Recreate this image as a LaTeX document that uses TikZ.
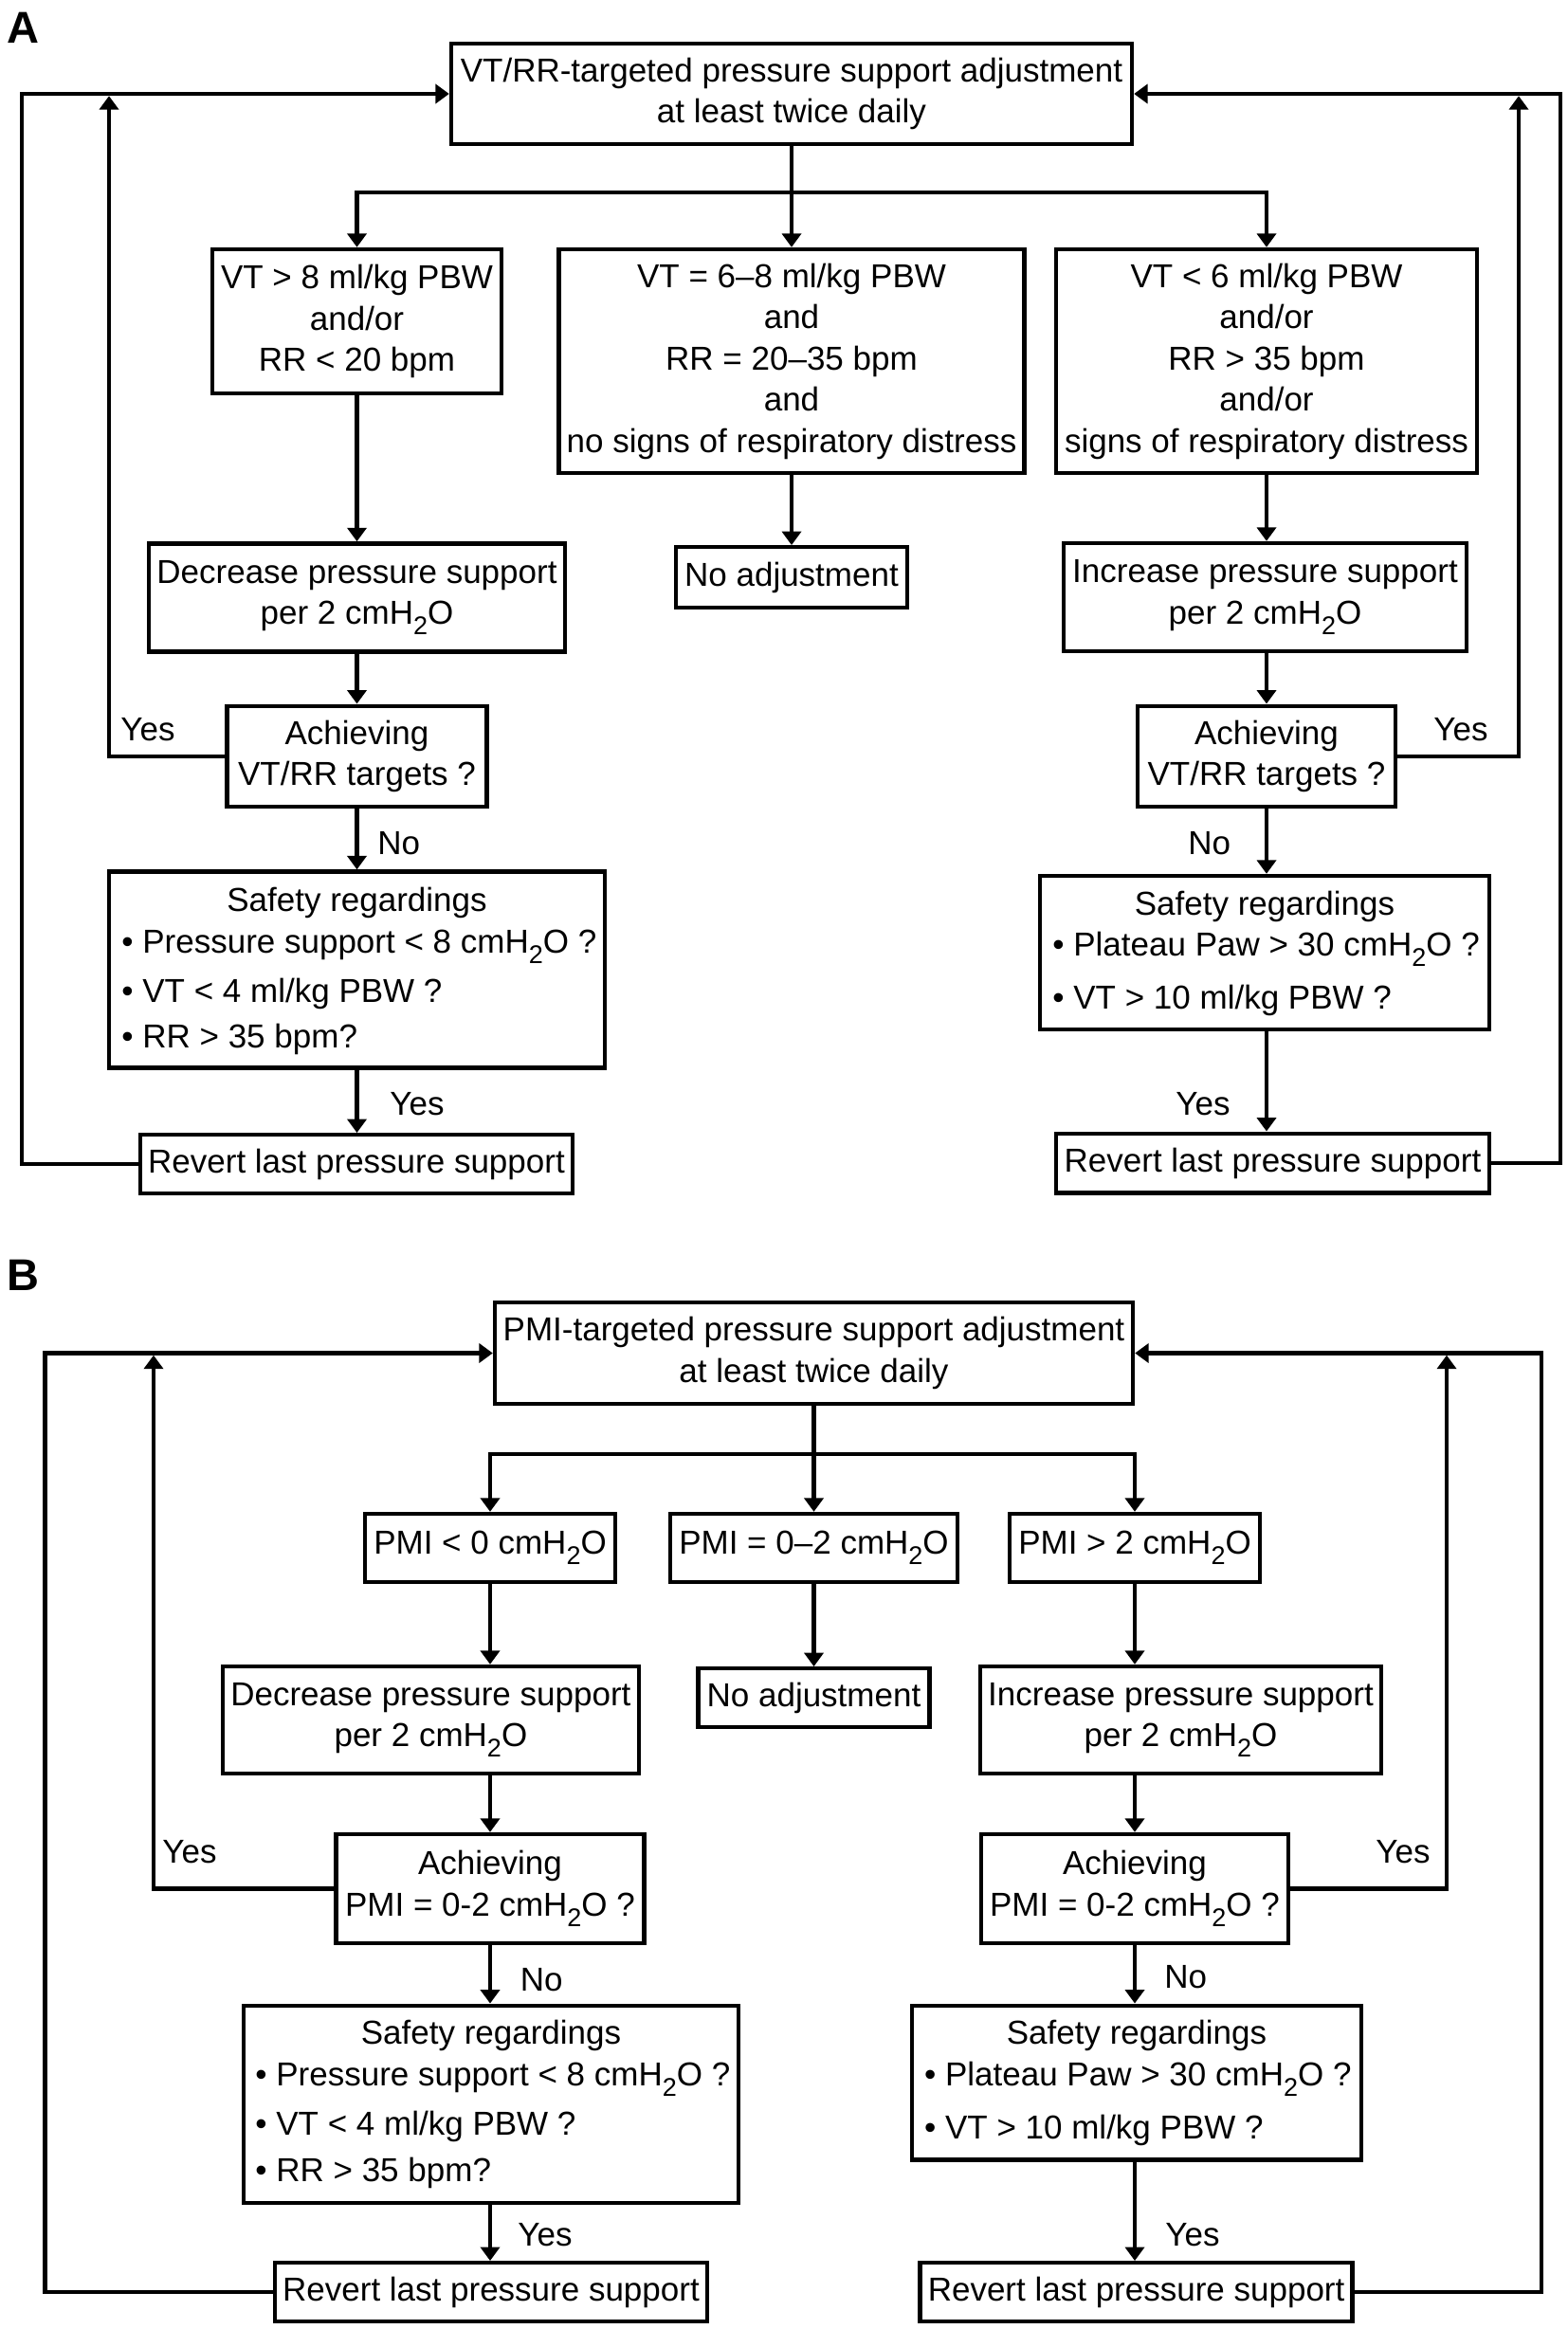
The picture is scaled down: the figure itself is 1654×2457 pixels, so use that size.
\documentclass[tikz,border=0pt]{standalone}
\usepackage{fontspec}
\setmainfont{Liberation Sans}
\usetikzlibrary{arrows.meta}
\newcommand\tsub[1]{\raisebox{-5.5pt}{\fontsize{13.5pt}{13.5pt}\selectfont #1}}
\newcommand\cmho{cmH\tsub{2}O}
\newcommand\bx[6]{\node[box, minimum width=#4*0.5pt, minimum height=#5*0.5pt] (#1) at (#2,#3) {#6};}
\begin{document}
\begin{tikzpicture}[x=0.5pt,y=-0.5pt,
  lw/.style={line width=2.2pt},
  box/.style={draw, lw, rectangle, inner sep=0pt, align=center, font=\fontsize{17.5pt}{21.75pt}\selectfont},
  txt/.style={inner sep=0pt, font=\fontsize{17.5pt}{21.75pt}\selectfont},
  arr/.style={lw, -{Triangle[length=7.2pt,width=10pt]}},
  panel/.style={inner sep=0pt, anchor=base west, font=\fontsize{23.5pt}{23.5pt}\selectfont\bfseries}]
\useasboundingbox (0,0) rectangle (1654,2457);

% ---------------- Panel A ----------------
\node[panel] (labA) at (7,46) {A};
\bx{topA}{835}{99}{718}{106}{VT/RR-targeted pressure support adjustment\\at least twice daily}
\bx{L1}{376.5}{339}{305}{152}{VT > 8 ml/kg PBW\\and/or\\RR < 20 bpm}
\bx{M1}{835}{381}{491}{236}{VT = 6–8 ml/kg PBW\\and\\RR = 20–35 bpm\\and\\no signs of respiratory distress}
\bx{R1}{1336}{381}{444.5}{236}{VT < 6 ml/kg PBW\\and/or\\RR > 35 bpm\\and/or\\signs of respiratory distress}
\bx{decA}{376.5}{630.4}{439.4}{114}{Decrease pressure support\\per 2 \cmho}
\bx{noA}{835}{609}{244}{63.5}{No adjustment}
\bx{incA}{1334.5}{630}{425}{114}{Increase pressure support\\per 2 \cmho}
\bx{achAL}{376.5}{797.7}{274}{106}{Achieving\\VT/RR targets ?}
\bx{safAL}{376.5}{1023}{523}{207}{}
\bx{revAL}{376}{1228}{456}{61.6}{Revert last pressure support}
\bx{achAR}{1336}{797.7}{272}{106}{Achieving\\VT/RR targets ?}
\bx{safAR}{1334}{1005}{474}{162}{}
\bx{revAR}{1342.5}{1227}{457}{62.6}{Revert last pressure support}

\node[txt, anchor=base] (sAL0) at (376.5,961) {Safety regardings};
\node[txt, anchor=base west] (sAL1) at (128,1005.7) {• Pressure support < 8 \cmho{} ?};
\node[txt, anchor=base west] (sAL2) at (128,1057) {• VT < 4 ml/kg PBW ?};
\node[txt, anchor=base west] (sAL3) at (128,1105) {• RR > 35 bpm?};
\node[txt, anchor=base] (sAR0) at (1334,965) {Safety regardings};
\node[txt, anchor=base west] (sAR1) at (1110,1008.6) {• Plateau Paw > 30 \cmho{} ?};
\node[txt, anchor=base west] (sAR2) at (1110,1064.6) {• VT > 10 ml/kg PBW ?};

\coordinate (brA) at (835,203);
\draw[lw] (topA.south) -- (brA);
\draw[arr] (brA) -| (L1.north);
\draw[arr] (brA) -- (M1.north);
\draw[arr] (brA) -| (R1.north);
\draw[arr] (L1.south) -- (L1.south |- decA.north);
\draw[arr] (M1.south) -- (noA.north);
\draw[arr] (R1.south) -- (R1.south |- incA.north);
\draw[arr] (achAL.north |- decA.south) -- (achAL.north);
\draw[arr] (achAL.south) -- (achAL.south |- safAL.north);
\draw[arr] (achAL.south |- safAL.south) -- (achAL.south |- revAL.north);
\draw[arr] (achAR.north |- incA.south) -- (achAR.north);
\draw[arr] (achAR.south) -- (achAR.south |- safAR.north);
\draw[arr] (achAR.south |- safAR.south) -- (achAR.south |- revAR.north);

\coordinate (oAL) at (23,99);
\coordinate (iAL) at (115,101.2);
\coordinate (oAR) at (1646,99);
\coordinate (iAR) at (1602,101.2);
\draw[arr] (revAL.west) -| (oAL) -- (topA.west);
\draw[arr] (achAL.west) -| (iAL);
\draw[arr] (revAR.east) -| (oAR) -- (topA.east);
\draw[arr] (achAR.east) -| (iAR);

\node[txt, anchor=base west] (yA1) at (127,781.8) {Yes};
\node[txt, anchor=base west] (nA1) at (398,901) {No};
\node[txt, anchor=base west] (yA2) at (411,1176.5) {Yes};
\node[txt, anchor=base west] (yA3) at (1512,781.8) {Yes};
\node[txt, anchor=base west] (nA2) at (1253,901) {No};
\node[txt, anchor=base west] (yA4) at (1240,1176.5) {Yes};

% ---------------- Panel B ----------------
\node[panel] (labB) at (7,1361) {B};
\bx{topB}{858.5}{1427.5}{673}{107}{PMI-targeted pressure support adjustment\\at least twice daily}
\bx{pL}{517}{1633}{264}{72}{PMI < 0 \cmho}
\bx{pM}{858.5}{1633}{303}{72}{PMI = 0–2 \cmho}
\bx{pR}{1197}{1633}{264}{72}{PMI > 2 \cmho}
\bx{decB}{454.4}{1814.5}{439.3}{113}{Decrease pressure support\\per 2 \cmho}
\bx{noB}{858.5}{1791}{244}{61.5}{No adjustment}
\bx{incB}{1245.5}{1814.5}{423}{113}{Increase pressure support\\per 2 \cmho}
\bx{achBL}{517}{1992.5}{325}{115}{Achieving\\PMI = 0-2 \cmho{} ?}
\bx{safBL}{518}{2220}{522.5}{208.5}{}
\bx{revBL}{518}{2418}{456}{61.6}{Revert last pressure support}
\bx{achBR}{1197}{1992.5}{324}{115}{Achieving\\PMI = 0-2 \cmho{} ?}
\bx{safBR}{1199}{2197}{473.5}{162.6}{}
\bx{revBR}{1198.6}{2418}{456}{61.6}{Revert last pressure support}

\node[txt, anchor=base] (sBL0) at (518,2156.8) {Safety regardings};
\node[txt, anchor=base west] (sBL1) at (269,2200) {• Pressure support < 8 \cmho{} ?};
\node[txt, anchor=base west] (sBL2) at (269,2252.5) {• VT < 4 ml/kg PBW ?};
\node[txt, anchor=base west] (sBL3) at (269,2301.4) {• RR > 35 bpm?};
\node[txt, anchor=base] (sBR0) at (1199,2156.8) {Safety regardings};
\node[txt, anchor=base west] (sBR1) at (974.7,2200) {• Plateau Paw > 30 \cmho{} ?};
\node[txt, anchor=base west] (sBR2) at (974.7,2256) {• VT > 10 ml/kg PBW ?};

\coordinate (brB) at (858.5,1534);
\draw[lw] (topB.south) -- (brB);
\draw[arr] (brB) -| (pL.north);
\draw[arr] (brB) -- (pM.north);
\draw[arr] (brB) -| (pR.north);
\draw[arr] (pL.south) -- (pL.south |- decB.north);
\draw[arr] (pM.south) -- (noB.north);
\draw[arr] (pR.south) -- (pR.south |- incB.north);
\draw[arr] (achBL.north |- decB.south) -- (achBL.north);
\draw[arr] (achBL.south) -- (achBL.south |- safBL.north);
\draw[arr] (achBL.south |- safBL.south) -- (achBL.south |- revBL.north);
\draw[arr] (achBR.north |- incB.south) -- (achBR.north);
\draw[arr] (achBR.south) -- (achBR.south |- safBR.north);
\draw[arr] (achBR.south |- safBR.south) -- (achBR.south |- revBR.north);

\coordinate (oBL) at (47.5,1427.5);
\coordinate (iBL) at (162,1429.7);
\coordinate (oBR) at (1626,1427.5);
\coordinate (iBR) at (1526,1429.7);
\draw[arr] (revBL.west) -| (oBL) -- (topB.west);
\draw[arr] (achBL.west) -| (iBL);
\draw[arr] (revBR.east) -| (oBR) -- (topB.east);
\draw[arr] (achBR.east) -| (iBR);

\node[txt, anchor=base west] (yB1) at (171,1965.4) {Yes};
\node[txt, anchor=base west] (nB1) at (548.5,2100.8) {No};
\node[txt, anchor=base west] (yB2) at (546,2369.5) {Yes};
\node[txt, anchor=base west] (yB3) at (1451,1965) {Yes};
\node[txt, anchor=base west] (nB2) at (1228,2097) {No};
\node[txt, anchor=base west] (yB4) at (1229,2369.5) {Yes};
\end{tikzpicture}
\end{document}
